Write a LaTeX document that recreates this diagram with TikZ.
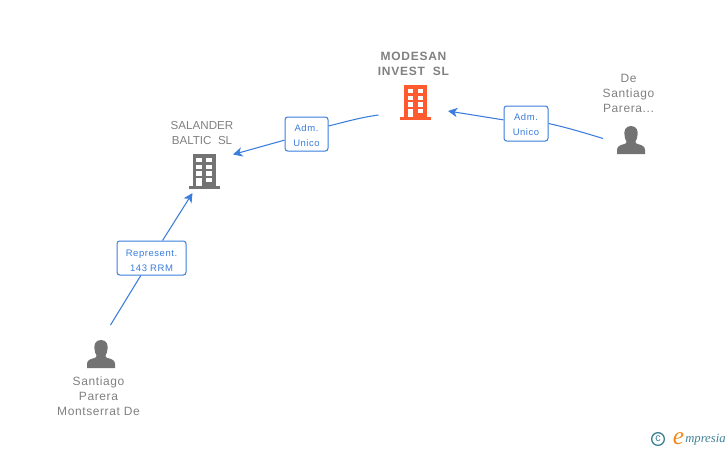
\documentclass[tikz,border=0pt]{standalone}
\usepackage{fontspec}
\setmainfont{Liberation Sans}
\newfontfamily\logofont{Liberation Serif}
\usetikzlibrary{arrows.meta}
\definecolor{linkblue}{HTML}{3B7DDD}
\definecolor{labelgray}{HTML}{808080}
\definecolor{icongray}{HTML}{737373}
\definecolor{iconorange}{HTML}{FF5B2E}
\definecolor{logoteal}{HTML}{3F8296}
\definecolor{logoorange}{HTML}{F08A1D}
\newcommand\topnudge[1]{\rule{0pt}{#1}}
\tikzset{
  px/.style={x=0.75pt,y=-0.75pt},
  conn/.style={draw=linkblue,line width=0.8pt},
  connarrow/.style={conn,-{Stealth[length=7pt,width=7pt,inset=2pt]}},
  linkbox/.style={draw=linkblue,fill=white,rounded corners=2pt,line width=0.75pt,inner sep=0pt,
    text=linkblue,font=\fontsize{7.1pt}{11.2pt}\selectfont\addfontfeature{LetterSpace=6},align=center},
  caption/.style={text=labelgray,font=\fontsize{9pt}{11.2pt}\selectfont\addfontfeature{LetterSpace=5},align=center,inner sep=0pt},
  capcaps/.style={caption,font=\fontsize{8.7pt}{11.2pt}\selectfont},
  strong/.style={caption,font=\bfseries\fontsize{9pt}{11.2pt}\selectfont\addfontfeature{LetterSpace=6}},
  pics/building/.style={code={
    \fill[#1] (-11.5,-17) rectangle (11.5,15.5);
    \fill[#1] (-15.5,15) rectangle (15.5,17.5);
    \foreach \yy in {-13,-6.3,0.3}{
      \fill[white] (-7.8,\yy) rectangle (-2.5,\yy+4.4);
      \fill[white] (2.2,\yy) rectangle (7.5,\yy+4.4);
    }
    \fill[white] (2.2,7) rectangle (7.5,11.4);
    \fill[white] (-7.8,7) rectangle (-2.5,15);
  }},
  pics/person/.style={code={
    \fill[icongray] (0,-14) .. controls (-6,-14) and (-7,-9) .. (-6.5,-5)
      .. controls (-6.2,-2) and (-5.5,0) .. (-4.5,1.5) .. controls (-4.5,3) and (-5,3.5) .. (-6.5,4)
      .. controls (-11,5) and (-14,6.5) .. (-14,10) -- (-14,14) -- (14,14) -- (14,10)
      .. controls (14,6.5) and (11,5) .. (6.5,4) .. controls (5,3.5) and (4.5,3) .. (4.5,1.5)
      .. controls (5.5,0) and (6.2,-2) .. (6.5,-5) .. controls (7,-9) and (6,-14) .. (0,-14) -- cycle;
  }},
}
\begin{document}
\begin{tikzpicture}[px]
\useasboundingbox (0,0) rectangle (728,450);
% free ends of the connectors
\coordinate (modesanout) at (378.5,115);
\coordinate (salandertip) at (233,154.5);
\coordinate (modesantip) at (448,111);
\coordinate (deout) at (603,138.5);
\coordinate (santiagoout) at (110.5,325);
\coordinate (salanderfoot) at (192.5,193);
% entities
\node[strong] (modesan) at (413.5,63.5) {MODESAN\\INVEST\ \ SL};
\pic at (415.5,102) {building=iconorange};
\node[capcaps] (salander) at (202,133) {SALANDER\\BALTIC\ \ SL};
\pic at (204,171) {building=icongray};
\node[caption] (de) at (628.5,93) {De\\Santiago\\Parera...};
\pic at (631,140) {person};
\pic at (101,354) {person};
\node[caption] (santiago) at (98.5,396) {Santiago\\Parera\\Montserrat De};
% link labels
\node[linkbox,minimum width=32.25pt,minimum height=25.5pt] (adm1) at (306.5,134) {\topnudge{7pt}Adm.\\Unico};
\node[linkbox,minimum width=33pt,minimum height=26.25pt] (adm2) at (526,123.5) {\topnudge{7pt}Adm.\\Unico};
\node[linkbox,minimum width=51.75pt,minimum height=25.5pt] (rep) at (151.5,258) {\topnudge{8.4pt}Represent.\\143 RRM};
% connectors
\draw[conn] (modesanout) .. controls (360,117.5) and (345,122) .. (adm1.20);
\draw[connarrow] (adm1) -- (salandertip);
\draw[connarrow] (adm2) -- (modesantip);
\draw[conn] (deout) .. controls (585,133) and (565,127) .. (adm2.east);
\draw[conn] (santiagoout) -- (rep);
\draw[connarrow] (rep) -- (salanderfoot);
% logo
\node[draw=logoteal,line width=1pt,circle,minimum size=9.5pt,inner sep=0pt,text=logoteal,font=\fontsize{8pt}{8pt}\selectfont] (copy) at (658,439) {c};
\node[inner sep=0pt,anchor=base west,text=logoorange,font=\logofont\itshape\fontsize{19pt}{19pt}\selectfont] (logoe) at (672.5,444.5) {e};
\node[inner sep=0pt,anchor=base west,text=logoteal,font=\logofont\itshape\fontsize{9.5pt}{9.5pt}\selectfont] (logotext) at (685,442.5) {mpresia};
\end{tikzpicture}
\end{document}
